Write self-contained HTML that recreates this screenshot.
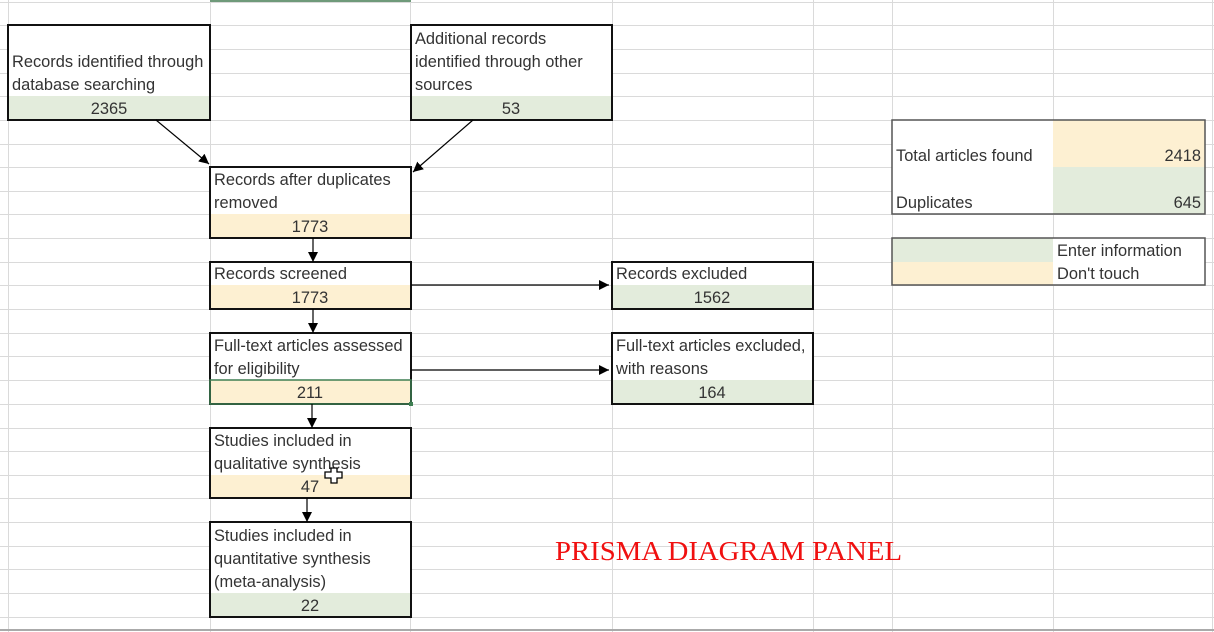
<!DOCTYPE html>
<html><head><meta charset="utf-8"><style>
html,body{margin:0;padding:0;background:#fff;}
svg{display:block;}
text{font-family:"Liberation Sans",sans-serif;font-size:16.4px;fill:#333;}
</style></head><body>
<svg width="1214" height="632" viewBox="0 0 1214 632" xmlns="http://www.w3.org/2000/svg">
<defs><marker id="a" viewBox="0 0 10 10" refX="10" refY="5" markerWidth="10" markerHeight="10" orient="auto" markerUnits="userSpaceOnUse"><path d="M0,0 L10,5 L0,10 z" fill="#000"/></marker></defs>
<g stroke="#dadada" stroke-width="1">
<line x1="8.5" y1="0" x2="8.5" y2="632"/><line x1="210.5" y1="0" x2="210.5" y2="632"/><line x1="410.5" y1="0" x2="410.5" y2="632"/><line x1="612.5" y1="0" x2="612.5" y2="632"/><line x1="813.5" y1="0" x2="813.5" y2="632"/><line x1="892.5" y1="0" x2="892.5" y2="632"/><line x1="1053.5" y1="0" x2="1053.5" y2="632"/><line x1="1212.5" y1="0" x2="1212.5" y2="632"/>
<line x1="0" y1="2.5" x2="1214" y2="2.5"/><line x1="0" y1="25.5" x2="1214" y2="25.5"/><line x1="0" y1="49.5" x2="1214" y2="49.5"/><line x1="0" y1="73.5" x2="1214" y2="73.5"/><line x1="0" y1="96.5" x2="1214" y2="96.5"/><line x1="0" y1="120.5" x2="1214" y2="120.5"/><line x1="0" y1="144.5" x2="1214" y2="144.5"/><line x1="0" y1="167.5" x2="1214" y2="167.5"/><line x1="0" y1="191.5" x2="1214" y2="191.5"/><line x1="0" y1="214.5" x2="1214" y2="214.5"/><line x1="0" y1="238.5" x2="1214" y2="238.5"/><line x1="0" y1="262.5" x2="1214" y2="262.5"/><line x1="0" y1="285.5" x2="1214" y2="285.5"/><line x1="0" y1="309.5" x2="1214" y2="309.5"/><line x1="0" y1="333.5" x2="1214" y2="333.5"/><line x1="0" y1="356.5" x2="1214" y2="356.5"/><line x1="0" y1="380.5" x2="1214" y2="380.5"/><line x1="0" y1="404.5" x2="1214" y2="404.5"/><line x1="0" y1="428.5" x2="1214" y2="428.5"/><line x1="0" y1="451.5" x2="1214" y2="451.5"/><line x1="0" y1="475.5" x2="1214" y2="475.5"/><line x1="0" y1="498.5" x2="1214" y2="498.5"/><line x1="0" y1="522.5" x2="1214" y2="522.5"/><line x1="0" y1="546.5" x2="1214" y2="546.5"/><line x1="0" y1="569.5" x2="1214" y2="569.5"/><line x1="0" y1="593.5" x2="1214" y2="593.5"/><line x1="0" y1="617.5" x2="1214" y2="617.5"/>
</g>
<line x1="0" y1="630" x2="1214" y2="630" stroke="#aaa" stroke-width="2"/>
<rect x="210" y="0" width="201" height="2" fill="#6f9a7a"/>
<g fill="#fff">
<rect x="8" y="25" width="202" height="95"/><rect x="411" y="25" width="201" height="95"/>
<rect x="210" y="167" width="201" height="71"/><rect x="210" y="262" width="201" height="47"/>
<rect x="612" y="262" width="201" height="47"/><rect x="210" y="333" width="201" height="71"/>
<rect x="612" y="333" width="201" height="71"/><rect x="210" y="428" width="201" height="70"/>
<rect x="210" y="522" width="201" height="95"/><rect x="892" y="120" width="313" height="94"/>
<rect x="892" y="238" width="313" height="47"/>
</g>
<g fill="#e3ecdc">
<rect x="8" y="96" width="202" height="24"/><rect x="411" y="96" width="201" height="24"/>
<rect x="612" y="285" width="201" height="24"/><rect x="612" y="380" width="201" height="24"/>
<rect x="210" y="593" width="201" height="24"/><rect x="1053" y="167" width="152" height="47"/>
<rect x="892" y="238" width="161" height="24"/>
</g>
<g fill="#fdf0d2">
<rect x="210" y="214" width="201" height="24"/><rect x="210" y="285" width="201" height="24"/>
<rect x="210" y="380" width="201" height="24"/><rect x="210" y="475" width="201" height="23"/>
<rect x="1053" y="120" width="152" height="47"/><rect x="892" y="262" width="161" height="23"/>
</g>
<g fill="none" stroke="#111" stroke-width="2">
<rect x="8" y="25" width="202" height="95"/><rect x="411" y="25" width="201" height="95"/>
<rect x="210" y="167" width="201" height="71"/><rect x="210" y="262" width="201" height="47"/>
<rect x="612" y="262" width="201" height="47"/><rect x="210" y="333" width="201" height="71"/>
<rect x="612" y="333" width="201" height="71"/><rect x="210" y="428" width="201" height="70"/>
<rect x="210" y="522" width="201" height="95"/>
</g>
<g fill="none" stroke="#555" stroke-width="1.5">
<rect x="892" y="120" width="313" height="94"/><rect x="892" y="238" width="313" height="47"/>
</g>
<rect x="210" y="380" width="201" height="24" fill="none" stroke="#3f7f52" stroke-width="1.5"/>
<rect x="409" y="402" width="4" height="4" fill="#3f7f52"/>
<g stroke="#000" stroke-width="1.2" marker-end="url(#a)">
<line x1="156" y1="120" x2="209" y2="164"/><line x1="473" y1="120" x2="413" y2="172"/>
<line x1="313" y1="238" x2="313" y2="262"/><line x1="313" y1="309" x2="313" y2="333"/>
<line x1="312" y1="404" x2="312" y2="428"/><line x1="307" y1="498" x2="307" y2="522"/>
<line x1="411" y1="285" x2="609" y2="285"/><line x1="411" y1="370" x2="609" y2="370"/>
</g>
<text x="12" y="67">Records identified through</text><text x="12" y="90">database searching</text>
<text x="109" y="114" text-anchor="middle">2365</text>
<text x="415" y="44">Additional records</text><text x="415" y="67">identified through other</text><text x="415" y="90">sources</text>
<text x="511" y="114" text-anchor="middle">53</text>
<text x="214" y="185">Records after duplicates</text><text x="214" y="208">removed</text>
<text x="310" y="232" text-anchor="middle">1773</text>
<text x="214" y="279">Records screened</text><text x="310" y="303" text-anchor="middle">1773</text>
<text x="616" y="279">Records excluded</text><text x="712" y="303" text-anchor="middle">1562</text>
<text x="214" y="351">Full-text articles assessed</text><text x="214" y="374">for eligibility</text>
<text x="310" y="398" text-anchor="middle">211</text>
<text x="616" y="351">Full-text articles excluded,</text><text x="616" y="374">with reasons</text>
<text x="712" y="398" text-anchor="middle">164</text>
<text x="214" y="446">Studies included in</text><text x="214" y="469">qualitative synthesis</text>
<text x="310" y="492" text-anchor="middle">47</text>
<text x="214" y="541">Studies included in</text><text x="214" y="564">quantitative synthesis</text><text x="214" y="587">(meta-analysis)</text>
<text x="310" y="611" text-anchor="middle">22</text>
<text x="896" y="161">Total articles found</text><text x="1201" y="161" text-anchor="end">2418</text>
<text x="896" y="208">Duplicates</text><text x="1201" y="208" text-anchor="end">645</text>
<text x="1057" y="256">Enter information</text><text x="1057" y="279">Don't touch</text>
<path d="M325,472 h6 v-4 h6 v4 h5 v6 h-5 v5 h-6 v-5 h-6 z" fill="#fff" stroke="#000" stroke-width="1.3"/>
<text x="555" y="560" textLength="347" lengthAdjust="spacingAndGlyphs" style="font-family:'Liberation Serif',serif;font-size:27px;fill:#f01010;">PRISMA DIAGRAM PANEL</text>
</svg>
</body></html>
